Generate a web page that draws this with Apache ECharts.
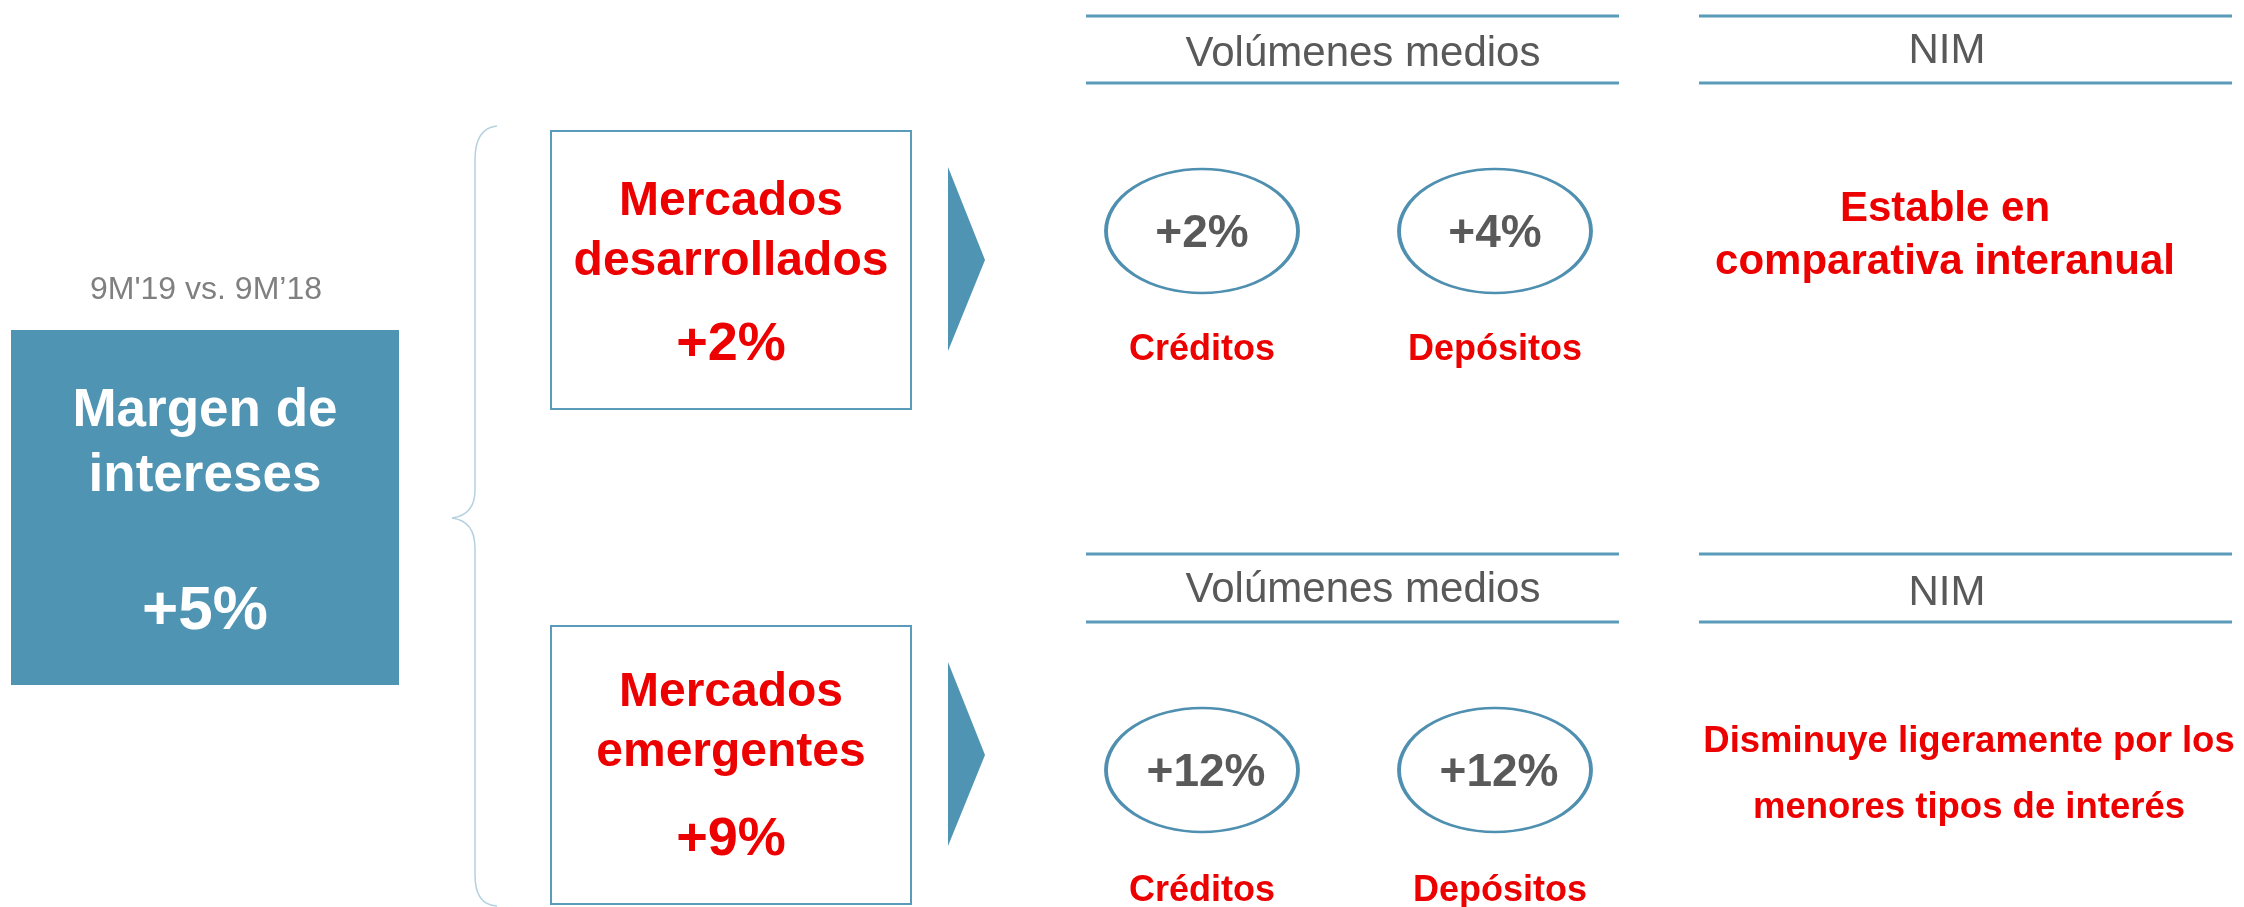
<!DOCTYPE html>
<html>
<head>
<meta charset="utf-8">
<title>Margen de intereses</title>
<script src="https://cdn.jsdelivr.net/npm/echarts@6/dist/echarts.min.js"></script>
<style>
  html, body { margin: 0; padding: 0; background: #fff; }
  #chart { width: 2244px; height: 907px; }
</style>
</head>
<body>
<div id="chart"></div>
<script>
// data
const period = "9M'19 vs. 9M’18";
const totalLabel = ['Margen de', 'intereses'];
const totalGrowth = '+5%';
const markets = [['Mercados', 'desarrollados'], ['Mercados', 'emergentes']];
const marketGrowth = ['+2%', '+9%'];
const headers = ['Volúmenes medios', 'NIM'];
const volumeLabels = ['Créditos', 'Depósitos'];
const loanGrowth = ['+2%', '+12%'];
const depositGrowth = ['+4%', '+12%'];
const nimNotes = [
  ['Estable en', 'comparativa interanual'],
  ['Disminuye ligeramente por los', 'menores tipos de interés']
];

const BLUE = '#4f94b3';
const LINE = '#5b9bba';
const RED = '#ec0000';
const GREY = '#595959';
const FONT = '"Liberation Sans", Arial, sans-serif';

// centred text; nudged down a little so the glyphs sit on the visual centre
function txt(x, y, text, size, color, bold, lh) {
  return {
    type: 'text', x: x, y: y + Math.round(size * 0.11), silent: true,
    style: {
      text: text, fill: color,
      font: (bold ? 'bold ' : '') + size + 'px ' + FONT,
      lineHeight: lh || size,
      align: 'center', verticalAlign: 'middle',
      textAlign: 'center', textVerticalAlign: 'middle'
    }
  };
}

const els = [];

// left block
els.push(txt(206, 286, period, 32, '#808080', false));
els.push({ type: 'rect', shape: { x: 11, y: 330, width: 388, height: 355 }, style: { fill: BLUE } });
els.push(txt(205, 438, totalLabel.join('\n'), 53, '#fff', true, 65));
els.push(txt(205, 605, totalGrowth, 62, '#fff', true));

// brace
const braceStyle = { fill: null, stroke: '#b5d1df', lineWidth: 1.5 };
[
  { type: 'bezierCurve', shape: { x1: 497, y1: 126, cpx1: 475, cpy1: 128, x2: 475, y2: 160 } },
  { type: 'line', shape: { x1: 475, y1: 160, x2: 475, y2: 490 } },
  { type: 'bezierCurve', shape: { x1: 475, y1: 490, cpx1: 475, cpy1: 515, x2: 452, y2: 518 } },
  { type: 'bezierCurve', shape: { x1: 452, y1: 518, cpx1: 475, cpy1: 521, x2: 475, y2: 548 } },
  { type: 'line', shape: { x1: 475, y1: 548, x2: 475, y2: 875 } },
  { type: 'bezierCurve', shape: { x1: 475, y1: 875, cpx1: 475, cpy1: 905, x2: 497, y2: 906 } }
].forEach(function (e) { e.style = braceStyle; els.push(e); });

// rows
const rowTop = [0, 495];
rowTop.forEach(function (dy, i) {
  // market box
  els.push({ type: 'rect', shape: { x: 551, y: 131 + dy, width: 360, height: 278 },
    style: { fill: '#fff', stroke: LINE, lineWidth: 2 } });
  els.push(txt(731, 227 + dy + i * -4, markets[i].join('\n'), 48, RED, true, 60));
  els.push(txt(731, 339 + dy, marketGrowth[i], 54, RED, true));

  // arrow
  els.push({ type: 'polygon', shape: { points: [[948, 167 + dy], [948, 351 + dy], [985, 260 + dy]] },
    style: { fill: BLUE } });

  // header lines
  const hy = i === 0 ? [16, 83] : [554, 622];
  [[1086, 1619], [1699, 2232]].forEach(function (xr) {
    hy.forEach(function (y) {
      els.push({ type: 'line', shape: { x1: xr[0], y1: y, x2: xr[1], y2: y },
        style: { stroke: LINE, lineWidth: 3 } });
    });
  });
  const ty = i === 0 ? [49, 46] : [585, 588];
  els.push(txt(1363, ty[0], headers[0], 42, GREY, false));
  els.push(txt(1947, ty[1], headers[1], 42, GREY, false));

  // volume ellipses
  const cy = i === 0 ? 231 : 770;
  const vals = [loanGrowth[i], depositGrowth[i]];
  [1202, 1495].forEach(function (cx, k) {
    els.push({ type: 'circle', x: cx, y: cy, scaleX: 96 / 62, scaleY: 1,
      shape: { cx: 0, cy: 0, r: 62 },
      style: { fill: '#fff', stroke: '#4f8fb0', lineWidth: 2.5, strokeNoScale: true } });
    els.push(txt(cx + (i === 1 ? 4 : 0), cy - 2, vals[k], 46, GREY, true));
    els.push(txt(cx + (i === 1 && k === 1 ? 5 : 0), i === 0 ? 346 : 887, volumeLabels[k], 36, RED, true));
  });

  // NIM note
  if (i === 0) {
    els.push(txt(1945, 231, nimNotes[i].join('\n'), 42, RED, true, 53));
  } else {
    els.push(txt(1969, 771, nimNotes[i].join('\n'), 36.5, RED, true, 66));
  }
});

const chart = echarts.init(document.getElementById('chart'), null, { renderer: 'canvas' });
chart.setOption({
  backgroundColor: '#fff',
  animation: false,
  graphic: { elements: els }
});
</script>
</body>
</html>
